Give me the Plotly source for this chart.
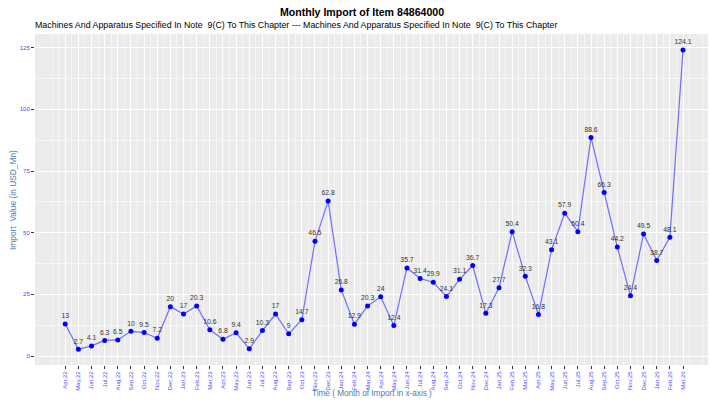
import plotly.graph_objects as go

months = ["Apr,22", "May,22", "Jun,22", "Jul,22", "Aug,22", "Sep,22", "Oct,22", "Nov,22", "Dec,22",
          "Jan,23", "Feb,23", "Mar,23", "Apr,23", "May,23", "Jun,23", "Jul,23", "Aug,23", "Sep,23",
          "Oct,23", "Nov,23", "Dec,23", "Jan,24", "Feb,24", "Mar,24", "Apr,24", "May,24", "Jun,24",
          "Jul,24", "Aug,24", "Sep,24", "Oct,24", "Nov,24", "Dec,24", "Jan,25", "Feb,25", "Mar,25",
          "Apr,25", "May,25", "Jun,25", "Jul,25", "Aug,25", "Sep,25", "Oct,25", "Nov,25", "Dec,25",
          "Jan,26", "Feb,26", "Mar,26"]
values = [13, 2.7, 4.1, 6.3, 6.5, 10, 9.5, 7.2, 20,
          17, 20.3, 10.6, 6.8, 9.4, 2.9, 10.3, 17, 9,
          14.7, 46.5, 62.8, 26.8, 12.9, 20.3, 24, 12.4, 35.7,
          31.4, 29.9, 24.1, 31.1, 36.7, 17.3, 27.7, 50.4, 32.3,
          16.8, 43.1, 57.9, 50.4, 88.6, 66.3, 44.2, 24.4, 49.5,
          38.7, 48.1, 124.1]
y_ticks = [0, 25, 50, 75, 100, 125]

FONT = "Liberation Sans, Arial"
AXIS_COL = "#4f7bb0"

idx = list(range(len(months)))
labels = [f"{v:g}" for v in values]

fig = go.Figure()
fig.add_trace(go.Scatter(
    x=idx, y=values, mode="lines+markers+text",
    line=dict(color="rgba(80,80,255,0.8)", width=1.2),
    marker=dict(color="#0000ff", size=5),
    text=labels, textposition="top center",
    textfont=dict(size=6.8, color="#333333"),
    cliponaxis=False, showlegend=False,
))

# minor grid half way between months (plus one step to the left)
minor_x = [i - 0.5 for i in range(len(months) + 2)] + [-1]

fig.update_layout(
    width=710, height=400,
    paper_bgcolor="white", plot_bgcolor="#EBEBEB",
    margin=dict(l=35, r=2, t=34, b=35),
    font=dict(family=FONT),
    title=dict(text="<b>Monthly Import of Item 84864000</b>", x=362 / 710, xanchor="center",
               y=1 - 12 / 400, yanchor="middle", font=dict(size=10.6, color="black")),
    annotations=[
        dict(text="Machines And Apparatus Specified In Note  9(C) To This Chapter --- Machines And Apparatus Specified In Note  9(C) To This Chapter",
             xref="paper", yref="paper", x=-0.003, y=1.027, xanchor="left", yanchor="middle",
             showarrow=False, font=dict(size=8.85, color="black")),
        dict(text="Time ( Month of Import in x-axis )", xref="paper", yref="paper",
             x=(372 - 35) / 673, y=-(393 - 365) / 331, xanchor="center", yanchor="middle",
             showarrow=False, font=dict(size=8.2, color=AXIS_COL)),
        dict(text="Import  Value (in USD_Mn)", xref="paper", yref="paper", textangle=-90,
             x=-(35 - 13) / 673, y=(365 - 200) / 331, xanchor="center", yanchor="middle",
             showarrow=False, font=dict(size=8.4, color=AXIS_COL)),
    ],
)
fig.update_xaxes(
    range=[-2.3, len(months) - 1 + 1.9], automargin=False,
    tickmode="array", tickvals=idx, ticktext=months, tickangle=-90,
    tickfont=dict(size=6, color="#4d4dff"),
    ticks="outside", ticklen=3, tickcolor="#333333",
    showgrid=True, gridcolor="white", gridwidth=1.1, zeroline=False,
    minor=dict(tickmode="array", tickvals=minor_x, showgrid=True, gridcolor="#F6F6F6", gridwidth=0.6),
)
fig.update_yaxes(
    range=[-3.65, 130.55], automargin=False,
    tickmode="array", tickvals=y_ticks,
    tickfont=dict(size=6, color="#4d4dff"),
    ticks="outside", ticklen=3, tickcolor="#333333",
    showgrid=True, gridcolor="white", gridwidth=1.1, zeroline=False,
    minor=dict(tickmode="array", tickvals=[12.5, 37.5, 62.5, 87.5, 112.5], showgrid=True,
               gridcolor="#F6F6F6", gridwidth=0.6),
)

fig.write_html("out.html", config={"displayModeBar": False},
               post_script="document.body.style.margin='0';")
